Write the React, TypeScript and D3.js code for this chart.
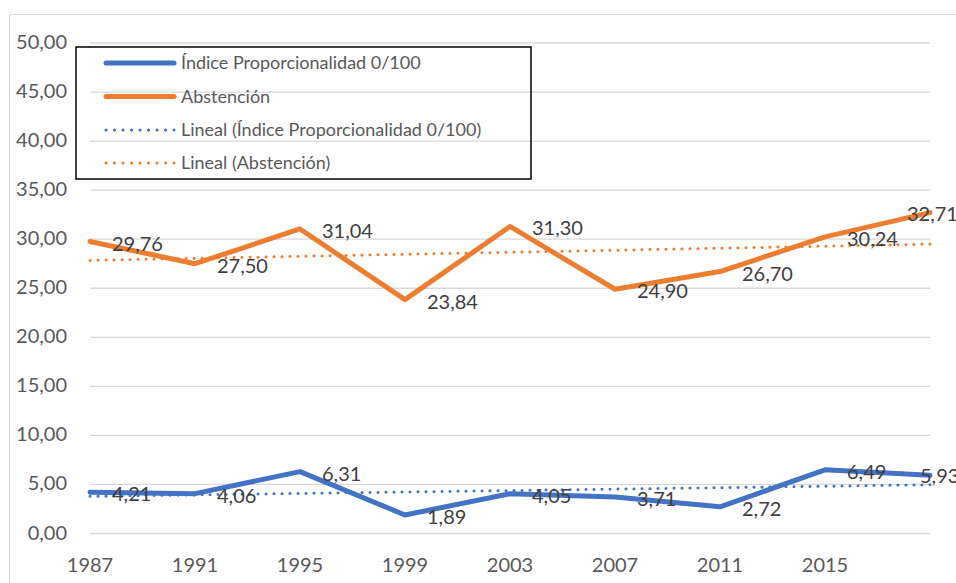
import React, { useEffect, useRef } from "react";
import * as d3 from "d3";

const years = [1987, 1991, 1995, 1999, 2003, 2007, 2011, 2015, 2019];
const tickYears = [1987, 1991, 1995, 1999, 2003, 2007, 2011, 2015];
const indice = [4.21, 4.06, 6.31, 1.89, 4.05, 3.71, 2.72, 6.49, 5.93];
const abstencion = [29.76, 27.5, 31.04, 23.84, 31.3, 24.9, 26.7, 30.24, 32.71];
const yTicks = [0, 5, 10, 15, 20, 25, 30, 35, 40, 45, 50];
const legendLabels = [
  "Índice Proporcionalidad 0/100",
  "Abstención",
  "Lineal (Índice Proporcionalidad 0/100)",
  "Lineal (Abstención)",
];

const BLUE = "#4472C4";
const ORANGE = "#ED7D31";
const FONT = "Lato, 'Open Sans', sans-serif";

// least squares fit over the point index, like Excel's linear trendline
const linearFit = (vals: number[]) => {
  const xs = vals.map((_, i) => i + 1);
  const mx = d3.mean(xs) as number;
  const my = d3.mean(vals) as number;
  let num = 0;
  let den = 0;
  xs.forEach((x, i) => {
    num += (x - mx) * (vals[i] - my);
    den += (x - mx) * (x - mx);
  });
  const b = num / den;
  const a = my - b * mx;
  return vals.map((_, i) => a + b * (i + 1));
};

const fmt = (v: number) => v.toFixed(2).replace(".", ",");

const App = () => {
  const ref = useRef<SVGSVGElement | null>(null);

  useEffect(() => {
    const svg = d3.select(ref.current);
    svg.selectAll("*").remove();

    const x = d3.scaleLinear().domain([1987, 2019]).range([90, 930]);
    const y = d3.scaleLinear().domain([0, 50]).range([533.5, 43]);

    // chart frame
    svg
      .append("path")
      .attr("d", "M9.5,583 V14.5 H956")
      .attr("fill", "none")
      .attr("stroke", "#d9d9d9")
      .attr("stroke-width", 1);

    // gridlines
    svg
      .append("g")
      .selectAll("line")
      .data(yTicks)
      .enter()
      .append("line")
      .attr("x1", x(1987))
      .attr("x2", x(2019))
      .attr("y1", (d) => y(d))
      .attr("y2", (d) => y(d))
      .attr("stroke", "#d9d9d9")
      .attr("stroke-width", 1.3);

    // y labels
    svg
      .append("g")
      .selectAll("text")
      .data(yTicks)
      .enter()
      .append("text")
      .attr("x", 67)
      .attr("y", (d) => y(d))
      .attr("dy", "0.3em")
      .attr("text-anchor", "end")
      .attr("font-family", FONT)
      .attr("font-size", 20)
      .attr("fill", "#595959")
      .text((d) => fmt(d));

    // x labels
    svg
      .append("g")
      .selectAll("text")
      .data(tickYears)
      .enter()
      .append("text")
      .attr("x", (d) => x(d))
      .attr("y", 572)
      .attr("text-anchor", "middle")
      .attr("font-family", FONT)
      .attr("font-size", 20)
      .attr("fill", "#595959")
      .text((d) => d);

    const line = d3
      .line<number>()
      .x((_, i) => x(years[i]))
      .y((d) => y(d));

    const series = [
      { vals: indice, color: BLUE },
      { vals: abstencion, color: ORANGE },
    ];

    series.forEach((s) => {
      svg
        .append("path")
        .attr("d", line(s.vals))
        .attr("fill", "none")
        .attr("stroke", s.color)
        .attr("stroke-width", 5)
        .attr("stroke-linejoin", "round")
        .attr("stroke-linecap", "round");
    });

    series.forEach((s) => {
      svg
        .append("path")
        .attr("d", line(linearFit(s.vals)))
        .attr("fill", "none")
        .attr("stroke", s.color)
        .attr("stroke-width", 3)
        .attr("stroke-dasharray", "0.1 7.9")
        .attr("stroke-linecap", "round");
    });

    // data labels, to the right of each point; the last one is pulled back
    // against the plot edge the way Excel does
    const last = years.length - 1;
    series.forEach((s) => {
      svg
        .append("g")
        .selectAll("text")
        .data(s.vals)
        .enter()
        .append("text")
        .attr("x", (d, i) =>
          i === last ? x(years[i]) - (d > 10 ? 23 : 10) : x(years[i]) + 22
        )
        .attr("y", (d, i) => y(d) + (i === last ? 1 : 2))
        .attr("dy", "0.35em")
        .attr("font-family", FONT)
        .attr("font-size", 20)
        .attr("fill", "#404040")
        .text((d) => fmt(d));
    });

    // legend
    const lg = svg.append("g");
    lg.append("rect")
      .attr("x", 76)
      .attr("y", 47)
      .attr("width", 455)
      .attr("height", 132)
      .attr("fill", "none")
      .attr("stroke", "#000")
      .attr("stroke-width", 1.5);

    const rowY = [63, 96.5, 130, 163];
    const legendColors = [BLUE, ORANGE, BLUE, ORANGE];
    legendLabels.forEach((label, i) => {
      const ln = lg
        .append("line")
        .attr("x1", 106)
        .attr("x2", 174)
        .attr("y1", rowY[i])
        .attr("y2", rowY[i])
        .attr("stroke", legendColors[i])
        .attr("stroke-linecap", "round");
      if (i < 2) {
        ln.attr("stroke-width", 5);
      } else {
        ln.attr("stroke-width", 3).attr("stroke-dasharray", "0.1 8.4");
      }
      lg.append("text")
        .attr("x", 181)
        .attr("y", rowY[i])
        .attr("dy", "0.35em")
        .attr("font-family", FONT)
        .attr("font-size", 18)
        .attr("fill", "#595959")
        .text(label);
    });

    return () => {
      svg.selectAll("*").remove();
    };
  }, []);

  return (
    <svg
      ref={ref}
      width={956}
      height={583}
      style={{ position: "absolute", left: 0, top: 0, background: "#fff" }}
    />
  );
};

export default App;
